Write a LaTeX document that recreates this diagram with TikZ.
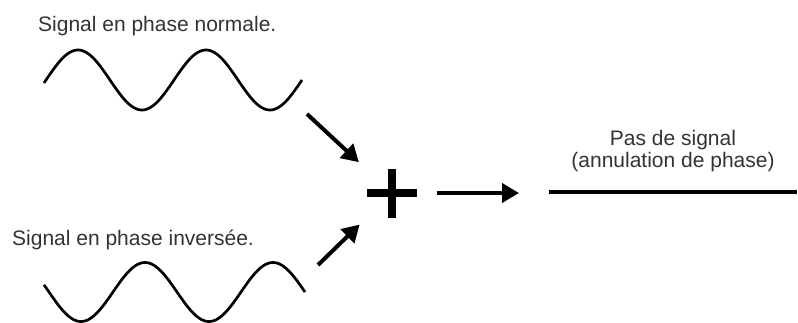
\documentclass[tikz,border=0pt]{standalone}
\usepackage{fontspec}
\setmainfont{Liberation Sans}
\usetikzlibrary{arrows.meta}
\begin{document}
\begin{tikzpicture}[x=1pt,y=-1pt,
  lbl/.style={font=\fontsize{21}{23}\selectfont, text=black!80, inner sep=0pt},
  wave/.style={line width=2.7pt, line join=round, line cap=butt},
  arr/.style={line width=4pt, -{Triangle[length=17pt,width=19pt]}},
  plusbar/.style={line width=8.5pt},
  flat/.style={line width=3.3pt},
]
\useasboundingbox (0,0) rectangle (798,322);
\clip (0,0) rectangle (798,322);
\node[lbl, anchor=base west] (t1) at (38,31.5) {Signal en phase normale.};
\node[lbl, anchor=base west] (t2) at (12,245) {Signal en phase inversée.};
\node[lbl, anchor=base] (t3) at (673,145) {Pas de signal};
\node[lbl, anchor=base] (t4) at (673,167) {(annulation de phase)};
% waves
\draw[wave] plot[domain=44:302, samples=160, smooth] (\x, {80 - 30*sin(2.8125*(\x-46))});
\draw[wave] plot[domain=44:305, samples=160, smooth] (\x, {292 + 29.5*sin(2.8125*(\x-49))});
% plus
\node[circle, minimum size=90pt, inner sep=0pt] (plus) at (392,193) {};
\draw[plusbar] ([xshift=-25pt]plus.center) -- ([xshift=25pt]plus.center);
\draw[plusbar] ([yshift=-24.5pt]plus.center) -- ([yshift=24.5pt]plus.center);
% arrows
\coordinate (a1) at (307,114);
\coordinate (a2) at (318,265);
\coordinate (a3) at (519,193);
\draw[arr] (a1) -- (plus);
\draw[arr] (a2) -- (plus);
\draw[arr] (plus.east) -- (a3);
% output line
\coordinate (o1) at (549,192);
\coordinate (o2) at (797,192);
\draw[flat] (o1) -- (o2);
\end{tikzpicture}
\end{document}
